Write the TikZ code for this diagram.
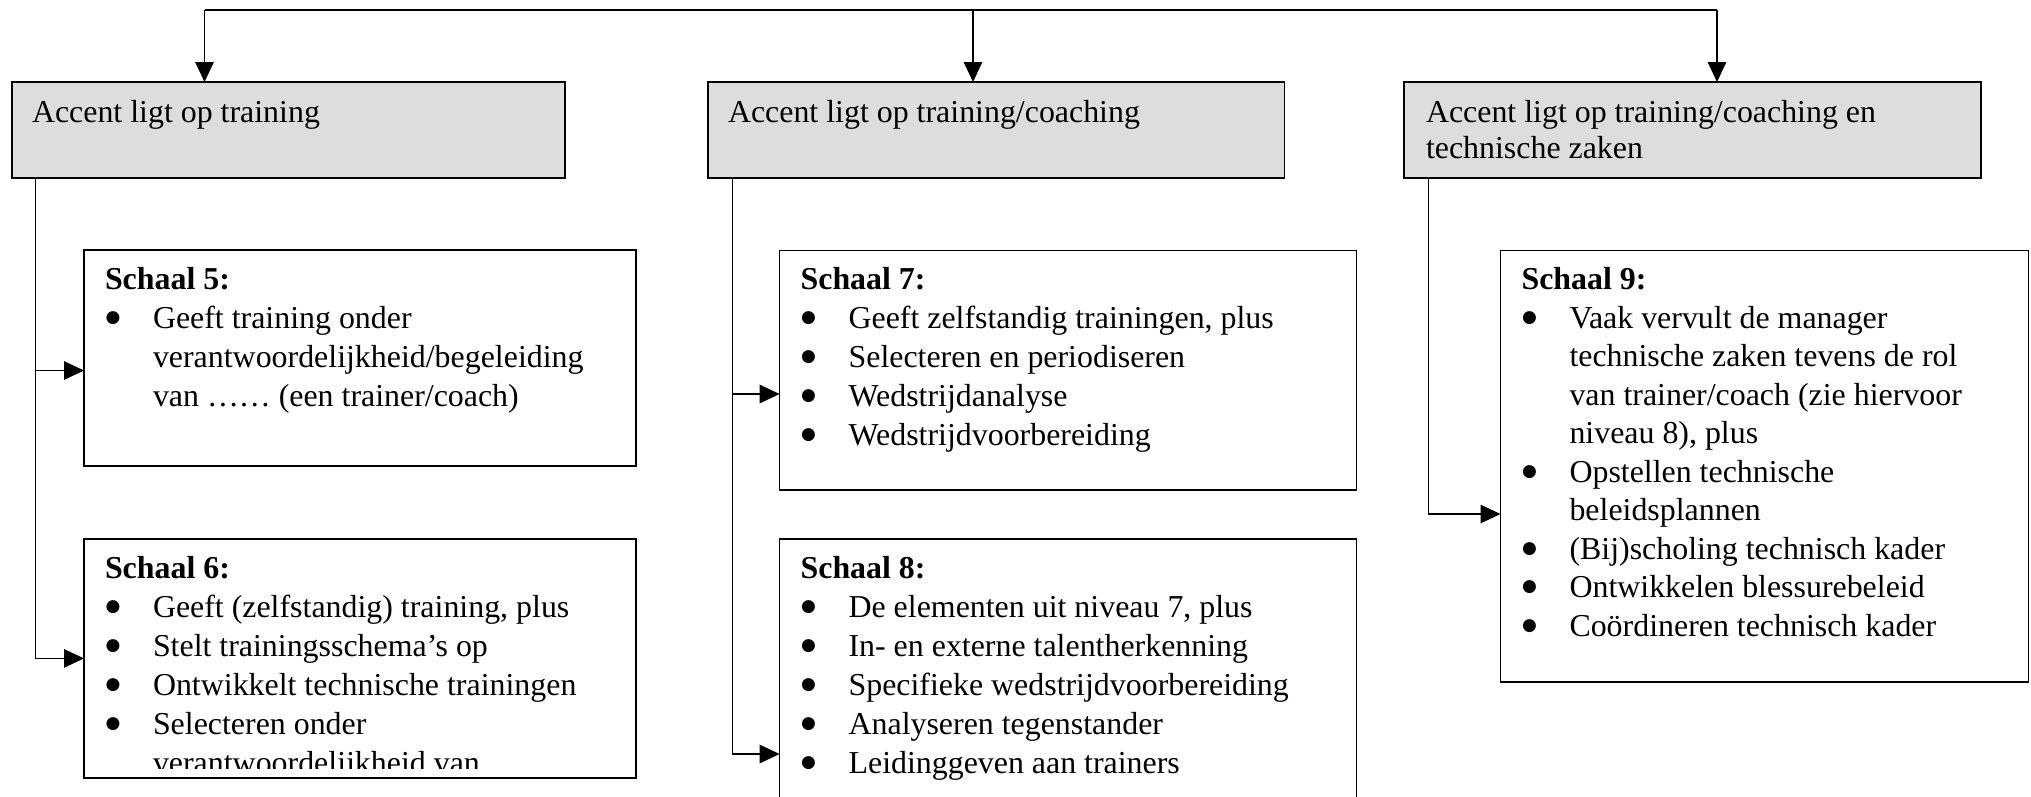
\documentclass[tikz,border=0pt]{standalone}
\usepackage{fontspec}
\setmainfont{Liberation Serif}
\newfontfamily\bulletfont{DejaVu Sans}
\usetikzlibrary{arrows.meta}
\definecolor{hdrfill}{RGB}{221,221,221}
\newcommand{\mybulmark}{\makebox[48pt][l]{\hspace*{0.5pt}\raisebox{6pt}{\bulletfont\fontsize{17}{17}\selectfont ●}}}
\newcommand{\myitem}[1]{\hbox{\mybulmark #1}}
\newcommand{\mycont}[1]{\hbox{\hspace*{48pt}#1}}
\newcommand{\myhead}[1]{\hbox{\bfseries #1}}
\newcommand{\myplain}[1]{\hbox{#1}}
\begin{document}
\begin{tikzpicture}[x=1pt,y=-1pt,
  box/.style={draw, line width=1.3pt, anchor=north west, inner sep=0pt, outer sep=0pt},
  hdr/.style={box, fill=hdrfill, minimum height=96pt},
  txt/.style={anchor=base west, inner sep=0pt, outer sep=0pt, font=\fontsize{31.9}{39}\selectfont},
  conn/.style={line width=1.3pt},
  arr/.style={conn, -{Triangle[length=20pt,width=18.5pt]}}]
\useasboundingbox (0,0) rectangle (2031,796);
\clip (0,0) rectangle (2031,796);
\fill[white] (0,0) rectangle (2031,796);

% header boxes
\node[hdr, minimum width=553pt] (h1) at (12,82) {};
\node[hdr, minimum width=576.5pt] (h2) at (708,82) {};
\node[hdr, minimum width=577pt] (h3) at (1404,82) {};

\node[txt] (h1t) at (32,122.5) {Accent ligt op training};
\node[txt] (h2t) at (728,122.5) {Accent ligt op training/coaching};
\node[txt] (h3t) at (1426,122.5) {\vtop{\baselineskip=36pt \myplain{Accent ligt op training/coaching en}\myplain{technische zaken}}};

% scale boxes
\node[box, minimum width=552pt, minimum height=216pt] (s5) at (84,250) {};
\node[box, minimum width=552pt, minimum height=239pt] (s6) at (84,539) {};
\node[box, minimum width=577pt, minimum height=239.5pt] (s7) at (779.6,250.5) {};
\node[box, minimum width=577pt, minimum height=300pt] (s8) at (779.6,539) {};
\node[box, minimum width=528pt, minimum height=431.5pt] (s9) at (1500.5,250.5) {};

\node[txt] (s5t) at (105,289.5) {\vtop{\baselineskip=39pt
  \myhead{Schaal 5:}
  \myitem{Geeft training onder}
  \mycont{verantwoordelijkheid/begeleiding}
  \mycont{van …… (een trainer/coach)}}};

\begin{scope}
\clip (84,539) rectangle (636,768.5);
\node[txt] (s6t) at (105,578) {\vtop{\baselineskip=39pt
  \myhead{Schaal 6:}
  \myitem{Geeft (zelfstandig) training, plus}
  \myitem{Stelt trainingsschema’s op}
  \myitem{Ontwikkelt technische trainingen}
  \myitem{Selecteren onder}
  \mycont{verantwoordelijkheid van}}};
\end{scope}

\node[txt] (s7t) at (800.6,289.5) {\vtop{\baselineskip=39pt
  \myhead{Schaal 7:}
  \myitem{Geeft zelfstandig trainingen, plus}
  \myitem{Selecteren en periodiseren}
  \myitem{Wedstrijdanalyse}
  \myitem{Wedstrijdvoorbereiding}}};

\node[txt] (s8t) at (800.6,578) {\vtop{\baselineskip=39pt
  \myhead{Schaal 8:}
  \myitem{De elementen uit niveau 7, plus}
  \myitem{In- en externe talentherkenning}
  \myitem{Specifieke wedstrijdvoorbereiding}
  \myitem{Analyseren tegenstander}
  \myitem{Leidinggeven aan trainers}}};

\node[txt] (s9t) at (1521.5,289.5) {\vtop{\baselineskip=38.5pt
  \myhead{Schaal 9:}
  \myitem{Vaak vervult de manager}
  \mycont{technische zaken tevens de rol}
  \mycont{van trainer/coach (zie hiervoor}
  \mycont{niveau 8), plus}
  \myitem{Opstellen technische}
  \mycont{beleidsplannen}
  \myitem{(Bij)scholing technisch kader}
  \myitem{Ontwikkelen blessurebeleid}
  \myitem{Coördineren technisch kader}}};

% top bus
\coordinate (b1) at (204.5,10);
\coordinate (b2) at (973,10);
\coordinate (b3) at (1717,10);
\draw[conn] (b1) -- (b3);
\draw[arr] (b1) -- (b1 |- h1.north);
\draw[arr] (b2) -- (b2 |- h2.north);
\draw[arr] (b3) -- (b3 |- h3.north);

% trunks
\coordinate (v1) at ([xshift=23.7pt]h1.south west);
\coordinate (v2) at ([xshift=24.7pt]h2.south west);
\coordinate (v3) at ([xshift=24.7pt]h3.south west);
\coordinate (a5) at (s5.west |- 0,370.5);
\coordinate (a6) at (s6.west |- 0,658.4);
\coordinate (a7) at (s7.west |- 0,394);
\coordinate (a8) at (s8.west |- 0,754);
\coordinate (a9) at (s9.west |- 0,514);
\draw[arr] (v1) |- (a6);
\draw[arr] (v1 |- a5) -- (a5);
\draw[arr] (v2) |- (a8);
\draw[arr] (v2 |- a7) -- (a7);
\draw[arr] (v3) |- (a9);
\end{tikzpicture}
\end{document}
